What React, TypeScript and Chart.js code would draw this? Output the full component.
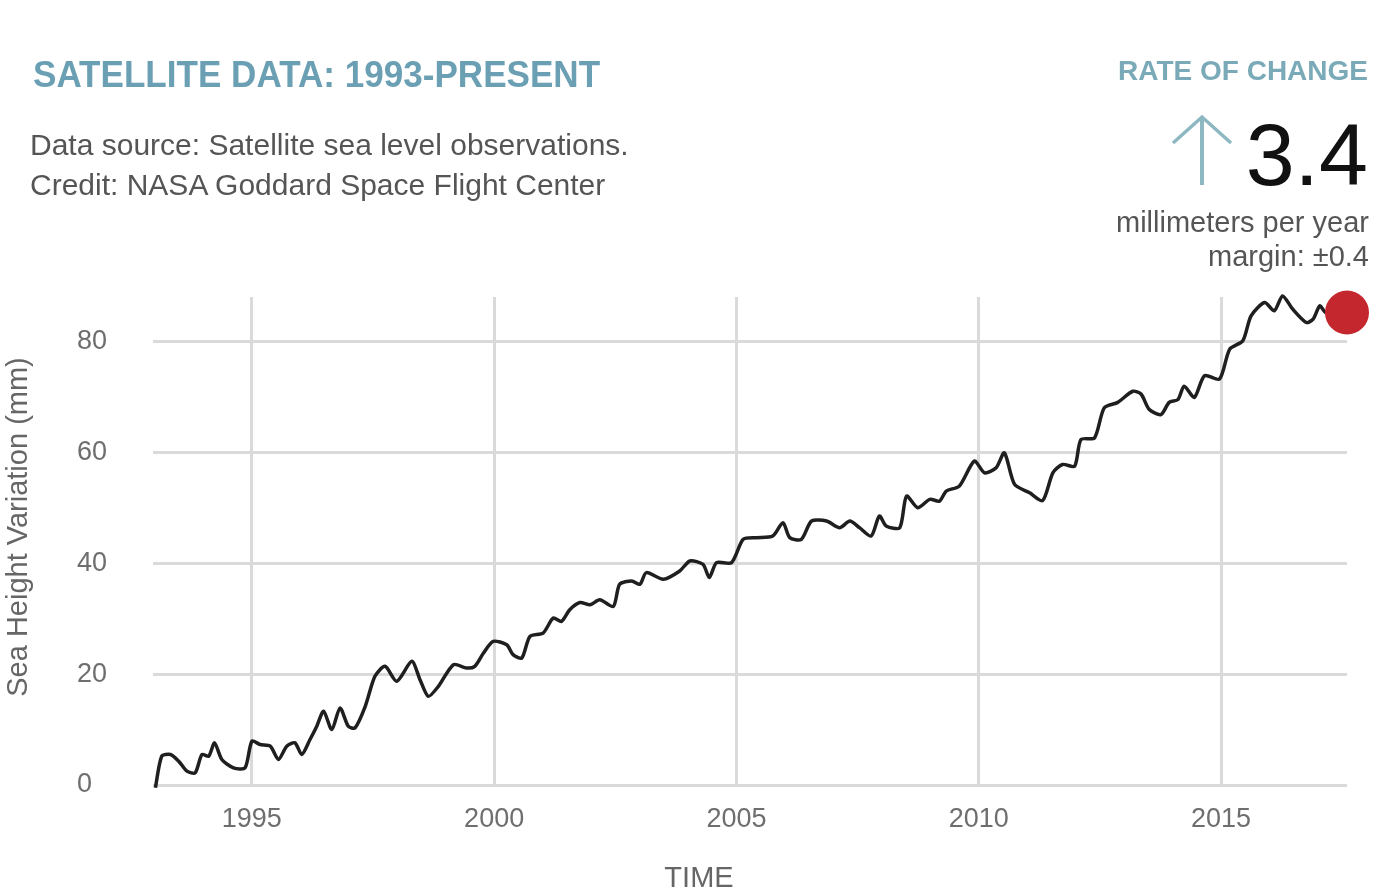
import React, { useEffect, useRef } from 'react';
import { Chart, registerables } from 'chart.js';

Chart.register(...registerables);

// Sea height variation (mm) vs time (decimal year)
const years = [
  1993.01, 1993.14, 1993.32, 1993.49, 1993.66, 1993.83, 1993.97, 1994.11, 1994.23, 1994.38,
  1994.62, 1994.86, 1995.0, 1995.17, 1995.38, 1995.55, 1995.72, 1995.89, 1996.03, 1996.2,
  1996.34, 1996.48, 1996.65, 1996.82, 1996.99, 1997.13, 1997.34, 1997.54, 1997.75, 1997.99,
  1998.3, 1998.47, 1998.64, 1998.85, 1999.16, 1999.43, 1999.6, 1999.78, 1999.98, 2000.26,
  2000.39, 2000.57, 2000.74, 2001.01, 2001.22, 2001.39, 2001.56, 2001.77, 2001.98, 2002.18,
  2002.46, 2002.59, 2002.84, 2003.01, 2003.14, 2003.49, 2003.83, 2004.04, 2004.31, 2004.44,
  2004.59, 2004.9, 2005.14, 2005.41, 2005.75, 2005.96, 2006.1, 2006.34, 2006.55, 2006.86,
  2007.13, 2007.34, 2007.54, 2007.78, 2007.95, 2008.09, 2008.37, 2008.51, 2008.74, 2008.99,
  2009.19, 2009.33, 2009.6, 2009.91, 2010.12, 2010.36, 2010.53, 2010.74, 2011.05, 2011.32,
  2011.53, 2011.73, 2011.98, 2012.11, 2012.39, 2012.59, 2012.87, 2013.18, 2013.35, 2013.52,
  2013.76, 2013.93, 2014.11, 2014.24, 2014.45, 2014.66, 2014.97, 2015.18, 2015.45, 2015.62,
  2015.9, 2016.1, 2016.27, 2016.48, 2016.76, 2016.9, 2017.04, 2017.16, 2017.6,
];

const seaLevel = [
  -0.5, 5.2, 5.5, 4.3, 2.5, 2.2, 5.5, 5.2, 7.6, 4.6,
  3.1, 3.1, 7.9, 7.3, 7.0, 4.6, 7.0, 7.6, 5.5, 8.2,
  10.6, 13.3, 10.0, 13.9, 10.6, 10.3, 14.2, 19.6, 21.4, 18.7,
  22.3, 19.0, 16.0, 17.8, 21.7, 21.1, 21.4, 23.8, 25.9, 25.3,
  23.5, 22.9, 26.8, 27.4, 30.1, 29.5, 31.6, 32.9, 32.5, 33.4,
  32.2, 36.2, 36.8, 36.2, 38.3, 37.1, 38.6, 40.4, 39.8, 37.4,
  40.1, 40.1, 44.3, 44.6, 44.9, 47.3, 44.6, 44.3, 47.6, 47.6,
  46.4, 47.6, 46.4, 44.9, 48.5, 46.7, 46.4, 52.1, 50.0, 51.5,
  51.2, 53.0, 53.9, 58.4, 56.3, 57.2, 59.9, 54.2, 52.7, 51.3,
  56.3, 57.8, 57.5, 62.3, 62.6, 68.0, 69.0, 71.0, 70.5, 67.7,
  66.8, 69.0, 69.5, 71.9, 69.9, 73.8, 73.2, 78.6, 80.1, 84.6,
  87.0, 85.5, 88.2, 85.8, 83.4, 84.0, 86.4, 85.2, 85.2,
];

const xTickYears = [1995, 2000, 2005, 2010, 2015];
const yTickValues = [0, 20, 40, 60, 80];

const FONT = "'Liberation Sans', Arial, Helvetica, sans-serif";

type TextProps = {
  left?: number;
  right?: number;
  top: number;
  size: number;
  color: string;
  bold?: boolean;
  scaleX?: number;
  children: React.ReactNode;
};

function Text({ left, right, top, size, color, bold, scaleX, children }: TextProps) {
  const style: React.CSSProperties = {
    position: 'absolute',
    top,
    fontFamily: FONT,
    fontSize: size,
    lineHeight: 1,
    color,
    fontWeight: bold ? 700 : 400,
    whiteSpace: 'nowrap',
  };
  if (left !== undefined) style.left = left;
  if (right !== undefined) style.right = right;
  if (scaleX) {
    style.transform = `scaleX(${scaleX})`;
    style.transformOrigin = left !== undefined ? 'left top' : 'right top';
  }
  return <div style={style}>{children}</div>;
}

export default function App() {
  const canvasRef = useRef<HTMLCanvasElement | null>(null);

  useEffect(() => {
    const canvas = canvasRef.current;
    if (!canvas) return;
    const points = years.map((x, i) => ({ x, y: seaLevel[i] }));
    const last = points.length - 1;

    const chart = new Chart(canvas, {
      type: 'line',
      data: {
        datasets: [
          {
            data: points,
            borderColor: '#1f1f1f',
            borderWidth: 3.5,
            tension: 0.25,
            fill: false,
            clip: false as any,
            pointRadius: points.map((_, i) => (i === last ? 22 : 0)),
            pointHoverRadius: points.map((_, i) => (i === last ? 22 : 0)),
            pointBackgroundColor: '#c4282e',
            pointBorderColor: '#c4282e',
            pointBorderWidth: 0,
          },
        ],
      },
      options: {
        responsive: false,
        animation: false,
        devicePixelRatio: 1,
        events: [],
        layout: { padding: { left: 77, top: 297, right: 43, bottom: 0 } },
        plugins: {
          legend: { display: false },
          tooltip: { enabled: false },
          title: { display: false },
        },
        scales: {
          x: {
            type: 'linear',
            min: 1992.96,
            max: 2017.6,
            afterBuildTicks: (scale: any) => {
              scale.ticks = xTickYears.map((v) => ({ value: v }));
            },
            afterFit: (scale: any) => {
              scale.height = 108;
            },
            grid: { color: '#dadada', lineWidth: 3, drawTicks: false },
            border: { display: false },
            ticks: {
              padding: 18,
              color: '#6e6e6e',
              font: { family: FONT, size: 27 },
              maxRotation: 0,
              autoSkip: false,
              callback: (v: any) => String(v),
            },
          },
          y: {
            type: 'linear',
            min: 0,
            max: 88,
            afterBuildTicks: (scale: any) => {
              scale.ticks = yTickValues.map((v) => ({ value: v }));
            },
            afterFit: (scale: any) => {
              scale.width = 76;
            },
            grid: { color: '#dadada', lineWidth: 3, drawTicks: false },
            border: { display: false },
            ticks: {
              crossAlign: 'far',
              color: '#6e6e6e',
              font: { family: FONT, size: 27 },
              autoSkip: false,
              callback: (v: any) => String(v),
            },
          },
        },
      },
    });

    return () => chart.destroy();
  }, []);

  return (
    <div
      style={{
        position: 'absolute',
        left: 0,
        top: 0,
        width: 1390,
        height: 893,
        background: '#ffffff',
        overflow: 'hidden',
      }}
    >
      <canvas
        ref={canvasRef}
        width={1390}
        height={893}
        style={{ position: 'absolute', left: 0, top: 0, width: 1390, height: 893 }}
      />

      <Text left={33} top={56} size={37} color="#6a9fb4" bold scaleX={0.948}>
        SATELLITE DATA: 1993-PRESENT
      </Text>
      <Text left={30} top={129.6} size={30} color="#555555">
        Data source: Satellite sea level observations.
      </Text>
      <Text left={30} top={169.6} size={30} color="#555555">
        Credit: NASA Goddard Space Flight Center
      </Text>

      <Text right={22} top={57.3} size={28} color="#7aaab8" bold>
        RATE OF CHANGE
      </Text>
      <Text right={22} top={110.5} size={88} color="#111111">
        3.4
      </Text>
      <Text right={21} top={208} size={29} color="#555555">
        millimeters per year
      </Text>
      <Text right={21} top={242} size={29} color="#555555">
        margin: ±0.4
      </Text>

      <svg
        width={1390}
        height={893}
        style={{ position: 'absolute', left: 0, top: 0, pointerEvents: 'none' }}
      >
        <line x1={1202} y1={118} x2={1202} y2={185} stroke="#8db8c1" strokeWidth={4} />
        <polyline
          points="1173,143 1202,117 1231,143"
          fill="none"
          stroke="#8db8c1"
          strokeWidth={3.5}
        />
      </svg>

      <div
        style={{
          position: 'absolute',
          left: 17,
          top: 527,
          transform: 'translate(-50%, -50%) rotate(-90deg)',
          fontFamily: FONT,
          fontSize: 29,
          lineHeight: 1,
          color: '#666666',
          whiteSpace: 'nowrap',
        }}
      >
        Sea Height Variation (mm)
      </div>

      <div
        style={{
          position: 'absolute',
          left: 699,
          top: 862.5,
          transform: 'translateX(-50%)',
          fontFamily: FONT,
          fontSize: 29,
          lineHeight: 1,
          color: '#666666',
          whiteSpace: 'nowrap',
        }}
      >
        TIME
      </div>
    </div>
  );
}
